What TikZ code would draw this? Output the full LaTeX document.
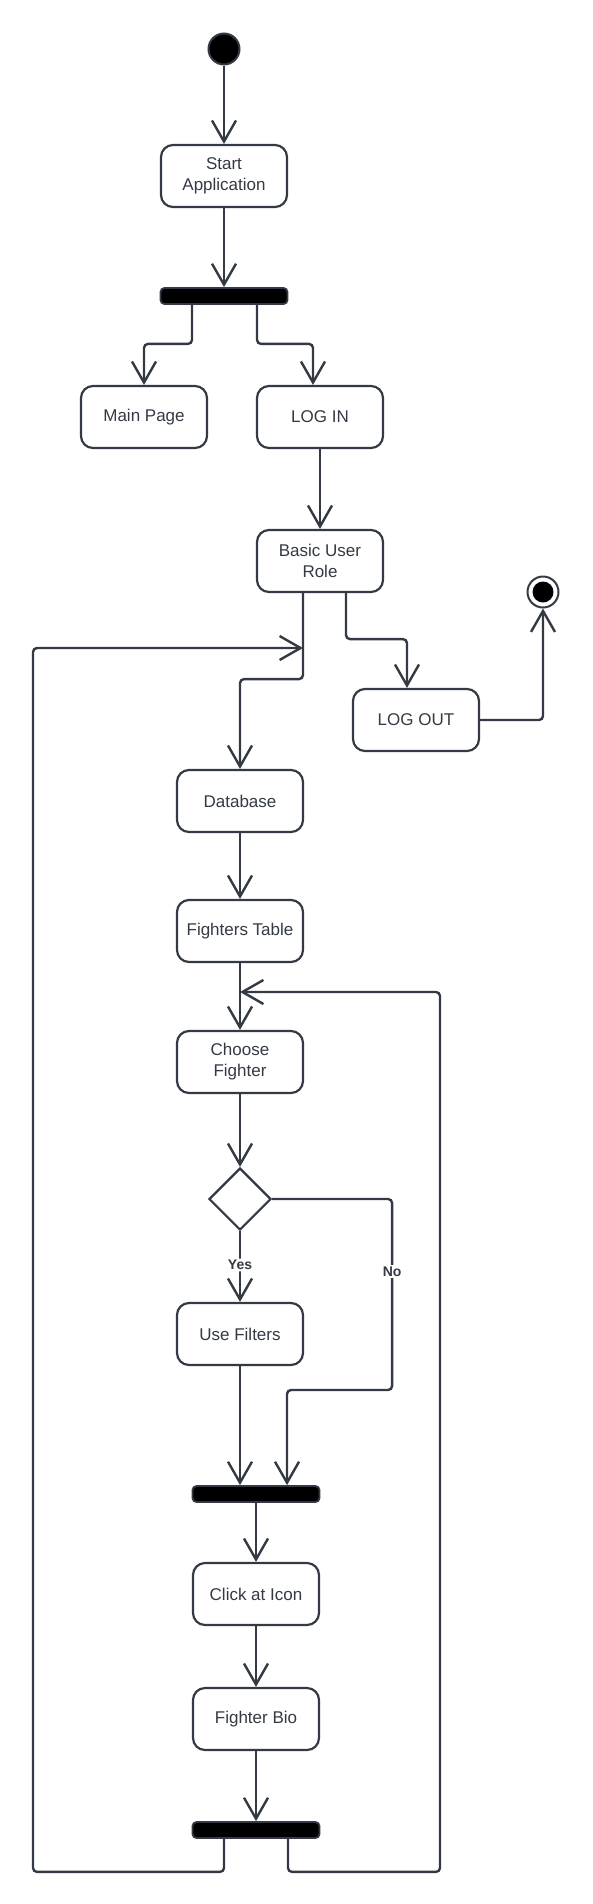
\documentclass[tikz,border=0pt]{standalone}
\usepackage{fontspec}
\setmainfont{Liberation Sans}
\usepackage{tikz}
\usetikzlibrary{arrows.meta,shapes.geometric}

\definecolor{linecol}{RGB}{52,58,68}

\tikzset{
  activity/.style={rectangle, rounded corners=12pt, draw=linecol, line width=2.2pt,
    minimum width=126pt, minimum height=62pt, align=center, text=linecol,
    font=\fontsize{17}{21}\selectfont},
  bar/.style={rectangle, rounded corners=4pt, fill=black, draw=linecol, line width=1.8pt,
    minimum width=127pt, minimum height=16pt, inner sep=0pt},
  initnode/.style={circle, fill=black, draw=linecol, line width=2pt, minimum size=31pt, inner sep=0pt},
  finalnode/.style={circle, draw=linecol, line width=2pt, minimum size=31pt, inner sep=0pt,
    path picture={\fill[black] (path picture bounding box.center) circle (10.5pt);}},
  decide/.style={diamond, draw=linecol, line width=2.2pt, minimum width=62pt,
    minimum height=62pt, inner sep=0pt},
  flow/.style={draw=linecol, line width=2.4pt, rounded corners=4pt,
    -{Straight Barb[length=21pt,width=24pt]}},
  lbl/.style={fill=white, text=linecol, inner sep=1.5pt, font=\fontsize{14}{16}\bfseries\selectfont}
}

\begin{document}
\begin{tikzpicture}[x=1pt,y=-1pt]
\useasboundingbox[fill=white] (0,0) rectangle (593,1904);

\node[initnode] (start) at (224,49) {};
\node[activity] (startapp) at (224,176) {Start\\Application};
\node[bar] (fork1) at (224,296) {};
\node[activity] (mainpage) at (144,417) {Main Page};
\node[activity] (login) at (320,417) {LOG IN};
\node[activity] (basic) at (320,561) {Basic User\\Role};
\node[activity] (logout) at (416,720) {LOG OUT};
\node[finalnode] (final) at (543,592) {};
\node[activity] (database) at (240,801) {Database};
\node[activity] (table) at (240,931) {Fighters Table};
\node[activity] (choose) at (240,1062) {Choose\\Fighter};
\node[decide] (decision) at (240,1199) {};
\node[activity] (usefilters) at (240,1334) {Use Filters};
\node[bar] (fork2) at (256,1494) {};
\node[activity] (clickicon) at (256,1594) {Click at Icon};
\node[activity] (bio) at (256,1719) {Fighter Bio};
\node[bar] (fork3) at (256,1830) {};

\coordinate (loopin) at (303,648);
\coordinate (tablein) at (240,992);

\draw[flow] (start) -- (startapp);
\draw[flow] (startapp) -- (fork1);
\draw[flow] ([xshift=-32pt]fork1.south) -- ++(0,39) -| (mainpage.north);
\draw[flow] ([xshift=33pt]fork1.south) -- ++(0,39) -| ([xshift=-7pt]login.north);
\draw[flow] (login) -- (basic);
\draw[flow] ([xshift=-17pt]basic.south) -- ++(0,86) -| (database.north);
\draw[flow] ([xshift=26pt]basic.south) -- ++(0,46) -| ([xshift=-9pt]logout.north);
\draw[flow] (logout.east) -| (final.south);
\draw[flow] (database) -- (table);
\draw[flow] (table) -- (choose);
\draw[flow] (choose) -- (decision);
\draw[flow] (decision.south) -- node[lbl, pos=0.48] {Yes} (usefilters.north);
\draw[flow] (decision.east) -- ++(120,0) -- ++(0,191) node[lbl, pos=0.38] {No}
  -| ([xshift=31pt]fork2.north);
\draw[flow] (usefilters.south) -- (usefilters.south |- fork2.north);
\draw[flow] (fork2) -- (clickicon);
\draw[flow] (clickicon) -- (bio);
\draw[flow] (bio) -- (fork3);
\draw[flow] ([xshift=-32pt]fork3.south) -- ++(0,33) -- ++(-191,0) |- (loopin);
\draw[flow] ([xshift=32pt]fork3.south) -- ++(0,33) -- ++(152,0) |- (tablein);
\end{tikzpicture}
\end{document}
